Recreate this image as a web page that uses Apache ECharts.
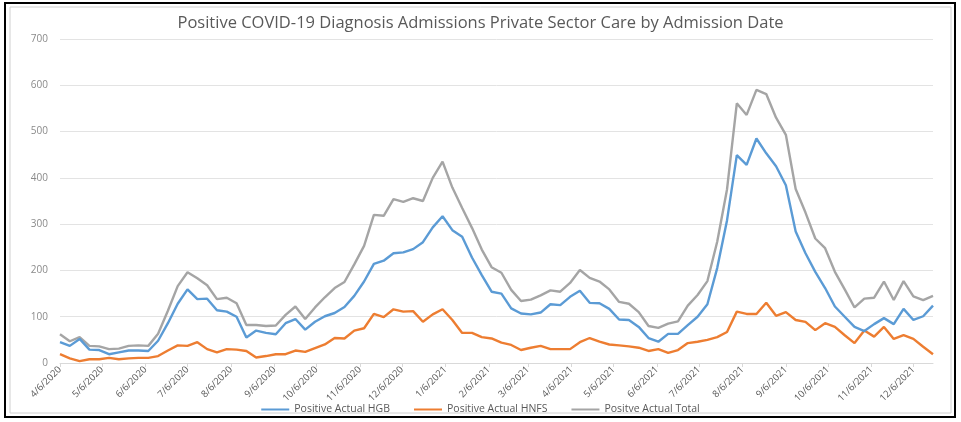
<!DOCTYPE html>
<html>
<head>
<meta charset="utf-8">
<script src="https://cdn.jsdelivr.net/npm/echarts@6/dist/echarts.min.js"></script>
<style>
html,body{margin:0;padding:0;background:#fff;}
#chart{width:961px;height:422px;}
</style>
</head>
<body>
<div id="chart"></div>
<script>
var dates = [
'2020-04-06','2020-04-13','2020-04-20','2020-04-27','2020-05-04','2020-05-11','2020-05-18','2020-05-25',
'2020-06-01','2020-06-08','2020-06-15','2020-06-22','2020-06-29','2020-07-06','2020-07-13','2020-07-20','2020-07-27',
'2020-08-03','2020-08-10','2020-08-17','2020-08-24','2020-08-31','2020-09-07','2020-09-14','2020-09-21','2020-09-28',
'2020-10-05','2020-10-12','2020-10-19','2020-10-26','2020-11-02','2020-11-09','2020-11-16','2020-11-23','2020-11-30',
'2020-12-07','2020-12-14','2020-12-21','2020-12-28',
'2021-01-04','2021-01-11','2021-01-18','2021-01-25','2021-02-01','2021-02-08','2021-02-15','2021-02-22',
'2021-03-01','2021-03-08','2021-03-15','2021-03-22','2021-03-29','2021-04-05','2021-04-12','2021-04-19','2021-04-26',
'2021-05-03','2021-05-10','2021-05-17','2021-05-24','2021-05-31','2021-06-07','2021-06-14','2021-06-21','2021-06-28',
'2021-07-05','2021-07-12','2021-07-19','2021-07-26','2021-08-02','2021-08-09','2021-08-16','2021-08-23','2021-08-30',
'2021-09-06','2021-09-13','2021-09-20','2021-09-27','2021-10-04','2021-10-11','2021-10-18','2021-10-25',
'2021-11-01','2021-11-08','2021-11-15','2021-11-22','2021-11-29','2021-12-06','2021-12-13','2021-12-20'
];
var hgb = [
45,37,52,29,28,19,23,27,27,26,48,86,128,159,138,139,114,111,100,55,
70,65,62,86,95,72,89,101,108,121,145,176,214,221,237,239,246,261,293,317,
287,273,228,190,154,150,118,107,105,109,127,125,143,156,130,129,117,94,93,78,
54,46,63,63,82,100,127,205,308,449,428,485,453,425,384,284,237,197,162,122,
100,78,69,84,97,84,117,93,101,124
];
var hnfs = [
19,10,4,8,8,11,8,10,11,11,15,27,38,37,45,30,23,30,29,26,
12,15,19,19,27,24,32,40,54,53,70,75,106,99,116,111,112,89,105,116,
93,65,65,56,53,44,39,28,33,37,30,30,30,45,54,46,40,38,36,33,
26,30,22,28,43,46,50,56,67,111,106,106,130,102,110,93,89,71,86,78,
60,43,70,57,78,52,60,52,35,19
];
var total = [
62,47,56,37,36,30,31,37,38,37,63,113,166,196,183,168,138,141,129,82,
82,80,81,104,122,95,120,142,162,175,213,253,320,318,354,348,356,350,400,435,
379,335,292,245,207,195,158,134,137,146,157,154,173,201,184,176,159,132,128,110,
80,76,85,90,124,147,177,262,375,561,536,590,581,530,493,376,325,269,248,197,
159,120,139,141,176,136,177,144,136,145
];
var tickLabels = [
'4/6/2020','5/6/2020','6/6/2020','7/6/2020','8/6/2020','9/6/2020','10/6/2020',
'11/6/2020','12/6/2020','1/6/2021','2/6/2021','3/6/2021','4/6/2021','5/6/2021',
'6/6/2021','7/6/2021','8/6/2021','9/6/2021','10/6/2021','11/6/2021','12/6/2021'
];
var seriesNames = ['Positive Actual HGB','Positive Actual HNFS','Positve Actual Total'];
var colors = ['#5B9BD5','#ED7D31','#A5A5A5'];

var DAY = 86400000;
function isoDay(s){var p=s.split('-');return Date.UTC(+p[0],+p[1]-1,+p[2])/DAY;}
function mdyDay(s){var p=s.split('/');return Date.UTC(+p[2],+p[0]-1,+p[1])/DAY;}
var base = isoDay(dates[0]);
function pairs(vals){return vals.map(function(v,i){return [isoDay(dates[i])-base,v];});}
var tickPos = tickLabels.map(function(s){return mdyDay(s)-base;});
var labelAt = {};
tickLabels.forEach(function(s,i){labelAt[tickPos[i]]=s;});

var chart = echarts.init(document.getElementById('chart'));
var font = 'Open Sans, DejaVu Sans, sans-serif';
chart.setOption({
  animation:false,
  color:colors,
  title:{
    text:'Positive COVID-19 Diagnosis Admissions Private Sector Care by Admission Date',
    left:'center', top:10,
    textStyle:{fontFamily:font,fontSize:16.5,fontWeight:'normal',color:'#595959'}
  },
  grid:{left:60,right:28,top:39,bottom:59},
  legend:{
    bottom:2, left:'center', itemGap:24, itemWidth:28, itemHeight:2, icon:'rect',
    data:seriesNames,
    textStyle:{fontFamily:font,fontSize:10.5,color:'#595959'}
  },
  xAxis:{
    type:'value',
    min:0, max:isoDay(dates[dates.length-1])-base,
    splitLine:{show:false},
    axisLine:{show:true,lineStyle:{color:'#d9d9d9',width:1}},
    axisTick:{show:true,customValues:tickPos,length:4,lineStyle:{color:'#d9d9d9'}},
    axisLabel:{
      customValues:tickPos, rotate:45, margin:5,
      fontFamily:font, fontSize:9.5, color:'#595959',
      formatter:function(v){return labelAt[Math.round(v)]||'';}
    }
  },
  yAxis:{
    type:'value', min:0, max:700, interval:100,
    axisLine:{show:false}, axisTick:{show:false},
    splitLine:{lineStyle:{color:'#e3e3e3',width:1}},
    axisLabel:{fontFamily:font,fontSize:10,color:'#8a8a8a',margin:12}
  },
  series:[
    {name:seriesNames[0],type:'line',data:pairs(hgb),showSymbol:false,symbol:'none',lineStyle:{width:2.4,color:colors[0]},z:3},
    {name:seriesNames[1],type:'line',data:pairs(hnfs),showSymbol:false,symbol:'none',lineStyle:{width:2.4,color:colors[1]},z:2},
    {name:seriesNames[2],type:'line',data:pairs(total),showSymbol:false,symbol:'none',lineStyle:{width:2.4,color:colors[2]},z:1}
  ],
  graphic:[
    {type:'rect',shape:{x:5,y:3,width:950,height:414},style:{fill:'none',stroke:'#000',lineWidth:2},silent:true},
    {type:'rect',shape:{x:10,y:7,width:941,height:406},style:{fill:'none',stroke:'#d0d0d0',lineWidth:1},silent:true}
  ]
});
</script>
</body>
</html>
